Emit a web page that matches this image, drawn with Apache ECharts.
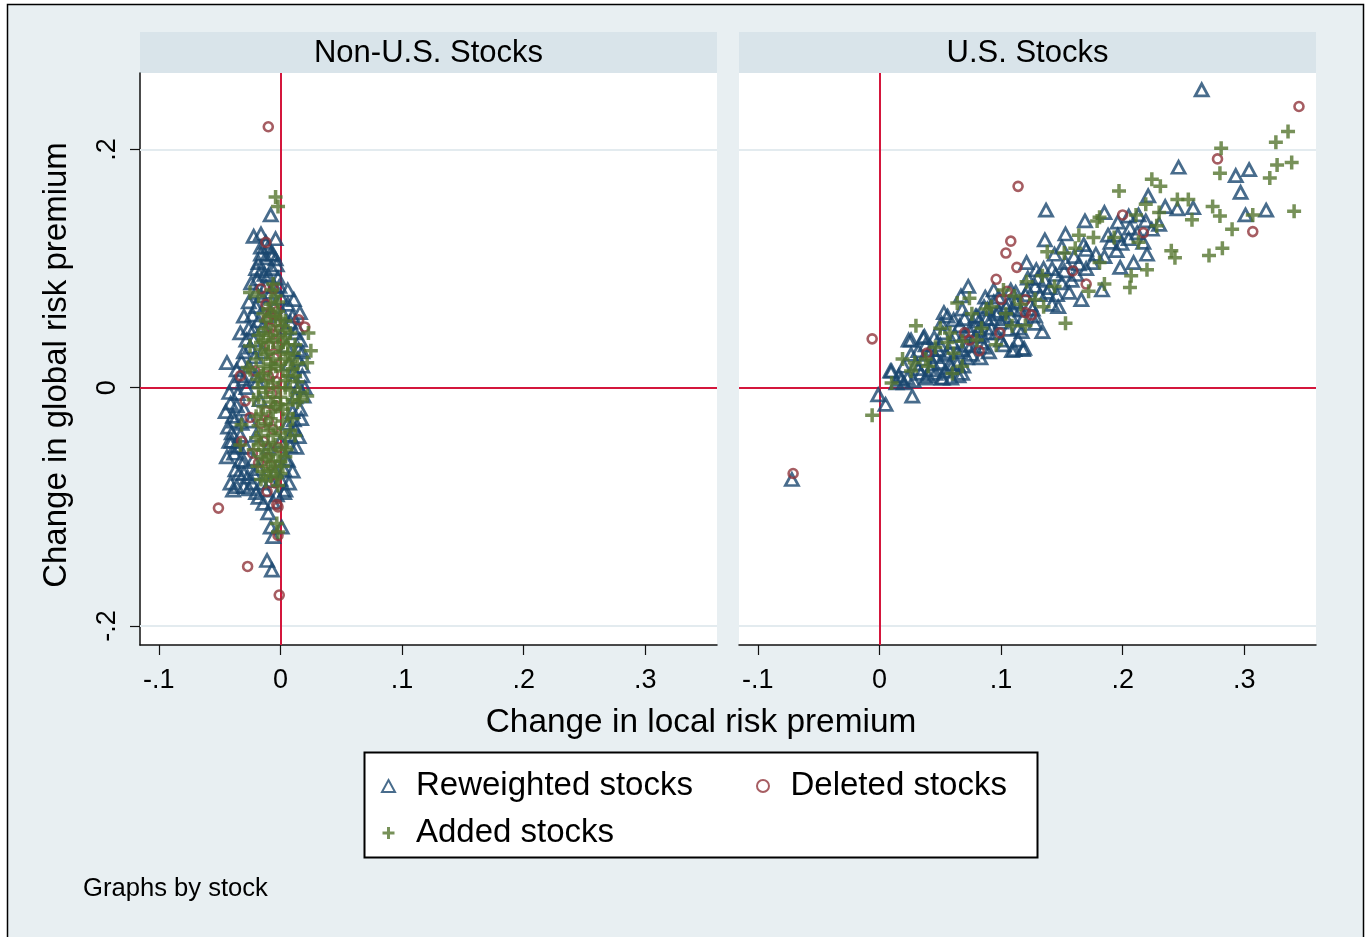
<!DOCTYPE html>
<html>
<head>
<meta charset="utf-8">
<title>Risk premium changes by stock</title>
<script src="https://cdn.jsdelivr.net/npm/echarts@6/dist/echarts.min.js"></script>
<style>
  html, body { margin: 0; padding: 0; background: #fff; }
  #chart { width: 1372px; height: 937px; }
</style>
</head>
<body>
<div id="chart"></div>
<script>
// ---- data ----
const panelTitles = ['Non-U.S. Stocks', 'U.S. Stocks']
const seriesNames = ['Reweighted stocks', 'Deleted stocks', 'Added stocks']

const xTicks = [-0.1, 0, 0.1, 0.2, 0.3]
const xTickLabels = ['-.1', '0', '.1', '.2', '.3']
const yTicks = [-0.2, 0, 0.2]
const yTickLabels = ['-.2', '0', '.2']
const yGridLines = [-0.2, 0.2]

// Non-U.S. panel: [change in local, change in global]
const nonUsReweighted = [
  [-0.008, 0.145], [-0.022, 0.127], [-0.016, 0.129], [-0.004, 0.125], [-0.016, 0.118], [-0.012, 0.109], [-0.004, 0.108], [-0.003, 0.103],
  [-0.016, 0.098], [-0.010, 0.094], [-0.002, 0.092], [-0.019, 0.091], [-0.012, 0.085], [-0.016, 0.077], [-0.012, 0.070], [0.001, 0.075],
  [0.011, 0.074], [0.016, 0.063], [-0.023, 0.061], [-0.018, 0.056], [-0.022, 0.049], [-0.014, 0.052], [-0.033, 0.046], [-0.022, 0.040],
  [-0.025, 0.034], [-0.021, 0.026], [-0.044, 0.021], [0.008, 0.055], [0.012, 0.046], [0.016, 0.040], [0.015, 0.032], [0.014, 0.024],
  [0.011, 0.014], [0.018, 0.010], [-0.030, 0.007], [-0.019, 0.005],
  [-0.041, -0.013], [-0.045, -0.020], [-0.039, -0.024], [-0.043, -0.033], [-0.040, -0.038], [-0.044, -0.058], [-0.037, -0.049], [-0.033, -0.061],
  [-0.037, -0.069], [-0.041, -0.080], [-0.036, -0.083], [-0.030, -0.083], [-0.023, -0.080], [-0.039, -0.086], [-0.027, -0.075], [-0.022, -0.072],
  [-0.012, -0.086], [-0.003, -0.090], [0.003, -0.088], [-0.014, -0.097], [-0.010, -0.105], [-0.008, -0.117], [0.001, -0.117], [-0.006, -0.125],
  [-0.011, -0.145], [-0.007, -0.153],
  [0.012, -0.035], [0.015, -0.041], [0.008, -0.049], [0.006, -0.061], [0.003, -0.069], [0.000, -0.077], [0.004, -0.086],
  [0.015, 0.001], [0.019, -0.007], [0.016, -0.018], [0.011, -0.027],
  [-0.030, 0.030], [-0.026, 0.018], [-0.033, 0.010], [-0.028, 0.000], [-0.035, -0.005], [-0.030, -0.018], [-0.025, -0.028], [-0.033, -0.040],
  [-0.028, -0.050], [-0.030, -0.062], [-0.022, -0.060], [-0.018, -0.068], [-0.015, -0.080], [-0.008, -0.078], [-0.004, -0.070], [0.004, -0.060],
  [0.008, -0.040], [0.010, -0.020], [0.012, -0.008], [0.010, 0.005], [0.007, 0.020], [0.005, 0.035], [0.004, 0.050], [0.002, 0.062],
  [-0.005, 0.068], [-0.010, 0.060], [-0.020, 0.068], [-0.026, 0.050], [-0.008, 0.080], [-0.020, 0.080], [-0.005, 0.085], [-0.018, 0.105],
  [-0.008, 0.112], [-0.010, 0.118], [-0.007, 0.100], [-0.013, 0.095], [-0.036, 0.015], [-0.038, -0.028], [-0.040, -0.045], [-0.034, -0.072],
  [-0.020, -0.040], [-0.017, -0.010], [-0.020, 0.010], [-0.015, 0.030], [-0.010, -0.050], [0.000, -0.045], [0.006, -0.030], [0.018, 0.030],
  [0.020, 0.000],
  [-0.042, -0.004], [-0.038, 0.004], [-0.036, -0.015], [-0.042, -0.045], [-0.038, -0.055], [-0.034, -0.050], [-0.032, -0.030], [-0.030, -0.072],
  [-0.026, -0.085], [-0.020, -0.088], [-0.018, -0.092], [-0.006, -0.096], [-0.016, 0.112], [-0.012, 0.122], [-0.020, 0.100], [-0.024, 0.088],
  [-0.026, 0.072], [-0.030, 0.060], [-0.028, 0.040], [-0.032, 0.022], [0.006, 0.070], [0.010, 0.060], [0.014, 0.050], [0.018, 0.018],
  [0.017, -0.026], [0.013, -0.050], [0.010, -0.070], [0.007, -0.080], [-0.006, 0.112], [-0.001, 0.085], [0.006, 0.082]
]
const nonUsDeleted = [
  [-0.010, 0.219], [-0.012, 0.122], [-0.016, 0.083], [-0.006, 0.083], [-0.008, 0.062], [-0.003, 0.064], [-0.011, 0.058], [0.015, 0.057],
  [0.020, 0.051], [-0.033, 0.010], [-0.021, 0.014], [-0.029, -0.011], [-0.025, -0.025], [-0.032, -0.045], [-0.023, -0.055], [-0.011, -0.059],
  [-0.018, -0.063], [-0.011, -0.087], [-0.003, -0.098], [-0.002, -0.100], [-0.002, -0.124], [-0.051, -0.101], [-0.027, -0.150], [-0.001, -0.174],
  [-0.006, 0.045], [-0.009, 0.035], [-0.005, 0.025], [-0.010, 0.010], [-0.007, -0.005], [-0.012, -0.020], [-0.006, -0.035], [-0.014, -0.045],
  [-0.016, -0.030], [-0.003, 0.005], [-0.004, 0.055], [-0.008, 0.050], [-0.002, 0.035], [-0.006, 0.012], [-0.004, -0.015], [-0.010, -0.028],
  [-0.002, -0.050], [-0.008, -0.065], [-0.004, -0.080], [-0.012, 0.070]
]
const nonUsAdded = [
  [-0.004, 0.160], [-0.002, 0.152], [-0.025, 0.080], [-0.018, 0.077], [-0.007, 0.082], [-0.004, 0.077], [-0.006, 0.087], [0.008, 0.046],
  [0.023, 0.046], [0.025, 0.031], [0.022, 0.021], [0.011, 0.029], [-0.014, 0.046], [-0.016, 0.038], [-0.025, 0.015], [-0.019, 0.007],
  [0.014, 0.005], [0.022, -0.007], [0.016, -0.010], [0.005, -0.052], [-0.003, -0.075], [-0.019, -0.066], [-0.016, -0.077], [-0.032, -0.031],
  [-0.033, -0.048], [-0.003, -0.114], [-0.002, -0.121], [-0.008, -0.074], [-0.027, 0.017], [-0.025, 0.035],
  [-0.008, 0.060], [0.000, 0.058], [-0.004, 0.052], [-0.012, 0.050], [0.004, 0.048], [-0.002, 0.044], [-0.010, 0.038], [0.006, 0.036],
  [-0.016, 0.032], [0.000, 0.030], [-0.006, 0.024], [0.008, 0.022], [-0.014, 0.018], [0.002, 0.014], [0.012, 0.010], [-0.010, 0.006],
  [-0.018, 0.000], [-0.002, 0.000], [0.008, -0.002], [-0.006, -0.008], [0.014, -0.012], [-0.014, -0.016], [0.002, -0.018], [-0.020, -0.024],
  [-0.008, -0.026], [0.010, -0.026], [-0.004, -0.034], [-0.016, -0.040], [0.004, -0.042], [-0.010, -0.046], [-0.022, -0.052], [-0.002, -0.056],
  [-0.012, -0.060], [0.002, -0.066], [-0.008, -0.068],
  [-0.012, 0.056], [-0.002, 0.064], [0.004, 0.056], [-0.006, 0.040], [0.002, 0.038], [-0.012, 0.028], [0.006, 0.028], [-0.004, 0.018],
  [0.010, 0.016], [-0.016, 0.010], [-0.008, 0.016], [0.004, 0.006], [-0.012, -0.004], [0.000, -0.008], [0.010, -0.010], [-0.018, -0.008],
  [-0.004, -0.016], [0.006, -0.014], [-0.012, -0.030], [0.002, -0.028], [-0.018, -0.032], [-0.006, -0.040], [0.008, -0.036], [-0.014, -0.052],
  [-0.004, -0.048], [0.004, -0.050], [-0.016, -0.058], [-0.006, -0.062], [0.004, -0.058], [-0.010, -0.070], [0.000, -0.072], [-0.014, -0.070],
  [-0.020, -0.042], [-0.022, -0.010], [-0.020, 0.024], [-0.018, 0.044], [0.012, 0.036], [0.014, 0.020], [0.016, -0.004], [0.012, -0.040],
  [-0.008, 0.070], [-0.014, 0.062], [-0.002, 0.072],
  [-0.010, 0.066], [-0.004, 0.060], [0.002, 0.052], [-0.008, 0.044], [-0.014, 0.040], [0.004, 0.042], [-0.002, 0.034], [-0.010, 0.030],
  [0.004, 0.024], [-0.008, 0.020], [-0.014, 0.012], [0.000, 0.020], [0.006, 0.010], [-0.006, 0.004], [-0.012, 0.000], [0.004, 0.000],
  [-0.008, -0.012], [0.000, -0.014], [-0.016, -0.022], [-0.006, -0.020], [0.006, -0.022], [-0.010, -0.036], [0.000, -0.038], [-0.018, -0.048],
  [-0.008, -0.052], [0.000, -0.062], [-0.010, -0.058], [-0.004, -0.066], [-0.012, -0.078], [-0.002, -0.082]
]

// U.S. panel
const usReweighted = [
  [0.265, 0.250], [0.246, 0.185], [0.293, 0.178], [0.304, 0.183], [0.297, 0.164], [0.301, 0.145], [0.318, 0.149], [0.221, 0.161],
  [0.235, 0.152], [0.245, 0.150], [0.258, 0.151], [0.137, 0.149], [0.169, 0.140], [0.185, 0.147], [0.196, 0.139], [0.205, 0.144],
  [0.213, 0.145], [0.219, 0.140], [0.230, 0.137], [0.224, 0.133], [0.136, 0.124], [0.153, 0.129], [0.190, 0.122], [0.199, 0.121],
  [0.217, 0.122], [0.220, 0.112], [0.209, 0.105], [0.198, 0.101], [0.183, 0.082], [0.166, 0.074], [0.147, 0.068], [0.134, 0.047],
  [0.128, 0.054], [0.118, 0.032], [0.109, 0.031], [0.083, 0.025], [0.073, 0.085], [0.067, 0.077], [0.121, 0.105], [0.129, 0.099],
  [0.144, 0.112], [0.153, 0.105], [0.170, 0.116], [0.175, 0.105], [0.056, 0.060], [0.051, 0.054], [0.045, 0.042], [0.037, 0.043],
  [0.026, 0.040], [0.010, 0.014], [0.018, 0.007], [0.038, 0.008], [0.051, 0.008], [0.059, 0.008], [0.068, 0.012], [-0.001, -0.006],
  [0.005, -0.014], [0.027, -0.007], [-0.072, -0.077],
  [0.024, 0.040], [0.036, 0.042], [0.009, 0.014], [0.016, 0.010], [0.023, 0.008], [0.042, 0.015], [0.052, 0.008], [0.065, 0.010],
  [0.050, 0.021], [0.059, 0.017], [0.069, 0.018], [0.061, 0.057], [0.068, 0.066], [0.079, 0.060], [0.089, 0.066], [0.098, 0.064],
  [0.082, 0.049], [0.090, 0.046], [0.106, 0.049], [0.117, 0.047], [0.111, 0.032], [0.119, 0.033], [0.052, 0.046], [0.043, 0.032],
  [0.032, 0.031], [0.106, 0.071], [0.112, 0.080], [0.094, 0.082], [0.087, 0.076], [0.053, 0.063], [0.072, 0.036], [0.079, 0.043],
  [0.030, 0.020], [0.034, 0.012], [0.040, 0.028], [0.044, 0.020], [0.048, 0.032], [0.055, 0.028], [0.060, 0.038], [0.064, 0.030],
  [0.070, 0.045], [0.075, 0.035], [0.078, 0.052], [0.084, 0.044], [0.088, 0.058], [0.092, 0.050], [0.096, 0.062], [0.100, 0.055],
  [0.104, 0.068], [0.108, 0.060], [0.112, 0.072], [0.116, 0.065], [0.120, 0.078], [0.124, 0.070], [0.128, 0.085], [0.132, 0.078],
  [0.136, 0.090], [0.140, 0.084], [0.145, 0.095], [0.150, 0.088], [0.038, 0.036], [0.066, 0.052], [0.080, 0.060], [0.094, 0.072],
  [0.108, 0.082], [0.122, 0.092], [0.135, 0.100], [0.020, 0.018], [0.026, 0.028], [0.046, 0.012], [0.058, 0.020], [0.072, 0.025],
  [0.086, 0.034], [0.100, 0.040], [0.114, 0.050], [0.128, 0.060], [0.142, 0.070], [0.156, 0.080], [0.162, 0.095], [0.170, 0.100],
  [0.185, 0.110], [0.195, 0.115], [0.205, 0.125], [0.160, 0.110], [0.150, 0.118],
  [0.014, 0.004], [0.020, 0.004], [0.028, 0.006], [0.032, 0.016], [0.036, 0.024], [0.040, 0.010], [0.046, 0.026], [0.050, 0.036],
  [0.054, 0.014], [0.058, 0.030], [0.062, 0.044], [0.064, 0.020], [0.068, 0.032], [0.070, 0.058], [0.074, 0.048], [0.076, 0.028],
  [0.082, 0.056], [0.084, 0.038], [0.086, 0.068], [0.090, 0.030], [0.092, 0.058], [0.096, 0.046], [0.098, 0.076], [0.102, 0.036],
  [0.104, 0.058], [0.110, 0.066], [0.114, 0.040], [0.118, 0.058], [0.122, 0.082], [0.126, 0.066], [0.130, 0.092], [0.138, 0.080],
  [0.142, 0.100], [0.146, 0.078], [0.152, 0.098], [0.158, 0.090], [0.164, 0.104], [0.168, 0.120], [0.178, 0.112], [0.188, 0.128],
  [0.196, 0.128], [0.206, 0.134], [0.212, 0.130]
]
const usDeleted = [
  [0.345, 0.236], [0.278, 0.192], [0.307, 0.131], [0.114, 0.169], [0.200, 0.145], [0.217, 0.130], [0.108, 0.123], [0.104, 0.113],
  [-0.006, 0.041], [0.113, 0.101], [0.096, 0.091], [0.159, 0.098], [0.170, 0.087], [0.100, 0.074], [0.105, 0.081], [0.120, 0.074],
  [0.120, 0.063], [0.125, 0.061], [0.070, 0.046], [0.074, 0.040], [0.082, 0.031], [0.099, 0.046], [0.039, 0.029], [-0.071, -0.072]
]
const usAdded = [
  [0.336, 0.215], [0.326, 0.206], [0.281, 0.201], [0.280, 0.180], [0.327, 0.187], [0.339, 0.189], [0.321, 0.176], [0.341, 0.148],
  [0.274, 0.152], [0.280, 0.144], [0.257, 0.141], [0.307, 0.145], [0.290, 0.133], [0.282, 0.117], [0.271, 0.111], [0.240, 0.115],
  [0.243, 0.109], [0.224, 0.175], [0.231, 0.169], [0.197, 0.165], [0.245, 0.158], [0.254, 0.158], [0.219, 0.154], [0.230, 0.147],
  [0.228, 0.136], [0.211, 0.145], [0.181, 0.143], [0.179, 0.140], [0.220, 0.099], [0.207, 0.094], [0.206, 0.084], [0.164, 0.128],
  [0.176, 0.126], [0.193, 0.126], [0.213, 0.122], [0.138, 0.114], [0.152, 0.113], [0.161, 0.117], [0.181, 0.105], [0.185, 0.087],
  [0.172, 0.081], [0.153, 0.054], [0.134, 0.094], [0.144, 0.085], [0.121, 0.089], [0.135, 0.068], [0.102, 0.082], [0.111, 0.077],
  [0.088, 0.066], [0.109, 0.052], [0.120, 0.052], [0.074, 0.075], [0.064, 0.071], [0.050, 0.050], [0.030, 0.052], [0.068, 0.039],
  [0.080, 0.040], [0.096, 0.036], [0.056, 0.038], [0.061, 0.029], [0.068, 0.018], [0.019, 0.024], [0.029, 0.021], [0.038, 0.024],
  [0.026, 0.014], [0.010, 0.004], [-0.006, -0.023],
  [0.046, 0.034], [0.058, 0.046], [0.076, 0.062], [0.092, 0.068], [0.104, 0.062], [0.116, 0.070], [0.128, 0.074], [0.060, 0.012],
  [0.040, 0.018], [0.084, 0.050]
]

// ---- look ----
const FONT = "'Liberation Sans', Arial, sans-serif"
const NAVY = '#1a476f'
const MAROON = '#90353b'
const GREEN = '#55752f'
const REFRED = '#d4163c'
const GRIDLINE = '#e3ebef'
const X_MIN = -0.1155, X_MAX = 0.359
const Y_MIN = -0.2159, Y_MAX = 0.2641
const plusPath = 'path://M4.5,0H7.5V4.5H12V7.5H7.5V12H4.5V7.5H0V4.5H4.5Z'

function tickLabel(ticks, labels) {
  return function(v) {
    const i = ticks.findIndex(t => Math.abs(t - v) < 1e-9)
    return i >= 0 ? labels[i] : ''
  }
}

const markerStyle = {
  'Reweighted stocks': { symbol: 'triangle', symbolSize: [13, 12], itemStyle: { color: 'rgba(0,0,0,0)', borderColor: NAVY, borderWidth: 2.8 } },
  'Deleted stocks': { symbol: 'circle', symbolSize: 9, itemStyle: { color: 'rgba(0,0,0,0)', borderColor: MAROON, borderWidth: 2.6 } },
  'Added stocks': { symbol: plusPath, symbolSize: 14, itemStyle: { color: GREEN } }
}

function refLines() {
  const data = yGridLines.map(v => ({ yAxis: v, lineStyle: { color: GRIDLINE, width: 2, type: 'solid' } }))
  data.push({ xAxis: 0, lineStyle: { color: REFRED, width: 2, type: 'solid' } })
  data.push({ yAxis: 0, lineStyle: { color: REFRED, width: 2, type: 'solid' } })
  return { silent: true, z: 1, symbol: ['none', 'none'], label: { show: false }, animation: false, emphasis: { disabled: true }, data: data }
}

function scatter(name, data, idx) {
  const s = Object.assign({
    name: name,
    type: 'scatter',
    xAxisIndex: idx,
    yAxisIndex: idx,
    data: data,
    z: 2,
    emphasis: { disabled: true },
    animation: false
  }, markerStyle[name])
  if (name === 'Reweighted stocks') s.markLine = refLines()
  return s
}

const panels = [
  [nonUsReweighted, nonUsDeleted, nonUsAdded],
  [usReweighted, usDeleted, usAdded]
]
const series = []
panels.forEach((p, i) => {
  p.forEach((d, k) => series.push(scatter(seriesNames[k], d, i)))
})

const gridLefts = [140, 739]

const chart = echarts.init(document.getElementById('chart'), null, { renderer: 'canvas' })
chart.setOption({
  animation: false,
  backgroundColor: '#ffffff',
  textStyle: { fontFamily: FONT },
  grid: gridLefts.map(l => ({
    left: l, top: 73, width: 577, height: 572,
    show: true, backgroundColor: '#ffffff', borderWidth: 0
  })),
  xAxis: gridLefts.map((l, i) => ({
    type: 'value', gridIndex: i, min: X_MIN, max: X_MAX,
    axisLine: { show: true, onZero: false, lineStyle: { color: '#111', width: 1.5 } },
    axisTick: { show: true, customValues: xTicks, length: 10, lineStyle: { color: '#111', width: 1.2 } },
    axisLabel: { customValues: xTicks, formatter: tickLabel(xTicks, xTickLabels), fontSize: 27, fontFamily: FONT, color: '#000', margin: 22 },
    splitLine: { show: false }
  })),
  yAxis: [
    {
      type: 'value', gridIndex: 0, min: Y_MIN, max: Y_MAX,
      axisLine: { show: true, onZero: false, lineStyle: { color: '#111', width: 1.5 } },
      axisTick: { show: true, customValues: yTicks, length: 10, lineStyle: { color: '#111', width: 1.2 } },
      axisLabel: { customValues: yTicks, formatter: tickLabel(yTicks, yTickLabels), rotate: 90, fontSize: 27, fontFamily: FONT, color: '#000', margin: 19 },
      splitLine: { show: false }
    },
    {
      type: 'value', gridIndex: 1, min: Y_MIN, max: Y_MAX,
      axisLine: { show: false }, axisTick: { show: false }, axisLabel: { show: false }, splitLine: { show: false }
    }
  ],
  legend: {
    left: 381, top: 767, width: 640,
    orient: 'horizontal',
    itemWidth: 13, itemHeight: 12, itemGap: 9,
    selectedMode: false, padding: 0,
    textStyle: { fontSize: 33, fontFamily: FONT, color: '#000', lineHeight: 38, padding: [0, 0, 0, 16] },
    data: [{ name: 'Reweighted stocks', textStyle: { width: 331 } }, 'Deleted stocks', 'Added stocks']
  },
  graphic: [
    { type: 'rect', z: -100, silent: true, shape: { x: 7.5, y: 4.5, width: 1356, height: 945 }, style: { fill: '#e8eff2', stroke: '#000', lineWidth: 1.5 } },
    { type: 'rect', silent: true, shape: { x: 140, y: 32, width: 577, height: 41 }, style: { fill: '#d9e4ea' } },
    { type: 'rect', silent: true, shape: { x: 739, y: 32, width: 577, height: 41 }, style: { fill: '#d9e4ea' } },
    { type: 'text', silent: true, x: 428.5, y: 53, style: { text: panelTitles[0], fontSize: 31, fontFamily: FONT, fill: '#000', align: 'center', verticalAlign: 'middle' } },
    { type: 'text', silent: true, x: 1027.5, y: 53, style: { text: panelTitles[1], fontSize: 31, fontFamily: FONT, fill: '#000', align: 'center', verticalAlign: 'middle' } },
    { type: 'text', silent: true, x: 57, y: 365, rotation: Math.PI / 2, style: { text: 'Change in global risk premium', fontSize: 33, fontFamily: FONT, fill: '#000', align: 'center', verticalAlign: 'middle' } },
    { type: 'text', silent: true, x: 701, y: 723, style: { text: 'Change in local risk premium', fontSize: 33.4, fontFamily: FONT, fill: '#000', align: 'center', verticalAlign: 'middle' } },
    { type: 'rect', silent: true, shape: { x: 364.5, y: 752.5, width: 673, height: 105 }, style: { fill: '#fff', stroke: '#000', lineWidth: 2 } },
    { type: 'text', silent: true, x: 83, y: 889, style: { text: 'Graphs by stock', fontSize: 25.6, fontFamily: FONT, fill: '#000', align: 'left', verticalAlign: 'middle' } }
  ],
  series: series
})
</script>
</body>
</html>
